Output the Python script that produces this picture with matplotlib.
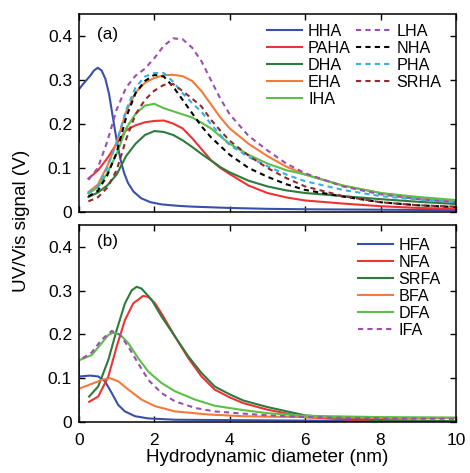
import matplotlib
matplotlib.use("Agg")
import matplotlib.pyplot as plt
from matplotlib.ticker import FuncFormatter

plt.rcParams['font.family'] = ['Liberation Sans', 'DejaVu Sans']

# ---------------- Panel (a) data ----------------
x_a = [0.25, 0.5, 0.75, 1.0, 1.25, 1.5, 1.75, 2.0, 2.25, 2.5, 2.75, 3.0,
       3.25, 3.5, 3.75, 4.0, 4.5, 5.0, 5.5, 6.0, 7.0, 8.0, 9.0, 10.0]

hha_x = [0.0, 0.0, 0.1, 0.2, 0.3, 0.4, 0.5, 0.6, 0.7, 0.8, 0.9, 1.0, 1.1, 1.2,
         1.3, 1.45, 1.65, 1.9, 2.2, 2.6, 3.0, 4.0, 5.0, 6.0, 8.0, 10.0]
hha_y = [0.16, 0.279, 0.29, 0.30, 0.31, 0.322, 0.328, 0.322, 0.303, 0.268,
         0.215, 0.163, 0.12, 0.088, 0.066, 0.046, 0.031, 0.022, 0.017, 0.014,
         0.012, 0.009, 0.007, 0.006, 0.005, 0.004]
paha = [0.076, 0.094, 0.122, 0.155, 0.186, 0.197, 0.204, 0.207, 0.208, 0.201,
        0.19, 0.168, 0.143, 0.118, 0.1, 0.086, 0.06, 0.043, 0.033, 0.026,
        0.019, 0.013, 0.009, 0.007]
dha = [0.034, 0.044, 0.06, 0.085, 0.127, 0.155, 0.175, 0.184, 0.182, 0.175,
       0.163, 0.148, 0.132, 0.117, 0.102, 0.09, 0.071, 0.058, 0.049, 0.043,
       0.036, 0.029, 0.023, 0.018]
eha = [0.045, 0.062, 0.104, 0.158, 0.228, 0.272, 0.294, 0.305, 0.311, 0.312,
       0.309, 0.298, 0.275, 0.245, 0.215, 0.19, 0.155, 0.127, 0.103, 0.085,
       0.06, 0.043, 0.031, 0.023]
iha = [0.042, 0.056, 0.088, 0.132, 0.19, 0.223, 0.242, 0.246, 0.236, 0.229,
       0.222, 0.215, 0.203, 0.19, 0.172, 0.155, 0.13, 0.11, 0.095, 0.085,
       0.06, 0.043, 0.034, 0.027]
lha = [0.073, 0.1, 0.16, 0.233, 0.283, 0.31, 0.326, 0.35, 0.378, 0.395,
       0.393, 0.374, 0.343, 0.3, 0.258, 0.222, 0.173, 0.14, 0.11, 0.088,
       0.058, 0.04, 0.029, 0.022]
nha = [0.035, 0.048, 0.083, 0.135, 0.215, 0.27, 0.298, 0.312, 0.308, 0.285,
       0.255, 0.225, 0.195, 0.17, 0.15, 0.13, 0.1, 0.08, 0.063, 0.05,
       0.035, 0.022, 0.015, 0.011]
pha = [0.043, 0.058, 0.1, 0.158, 0.232, 0.283, 0.308, 0.316, 0.316, 0.296,
       0.27, 0.248, 0.228, 0.2, 0.175, 0.152, 0.125, 0.104, 0.085, 0.07,
       0.05, 0.036, 0.028, 0.022]
srha = [0.024, 0.033, 0.055, 0.095, 0.165, 0.222, 0.255, 0.276, 0.289, 0.291,
        0.275, 0.258, 0.24, 0.21, 0.185, 0.162, 0.128, 0.1, 0.077, 0.058,
        0.036, 0.022, 0.015, 0.012]

# ---------------- Panel (b) data ----------------
hfa_x = [0.0, 0.0, 0.03, 0.29, 0.51, 0.69, 0.87, 1.04, 1.22, 1.49, 1.84, 2.55,
         4.3, 6.0, 8.0, 10.0]
hfa_y = [0.0, 0.104, 0.104, 0.106, 0.104, 0.093, 0.066, 0.039, 0.024, 0.013,
         0.008, 0.005, 0.004, 0.003, 0.002, 0.002]
nfa_x = [0.27, 0.51, 0.78, 1.0, 1.22, 1.44, 1.7, 1.84, 2.02, 2.19, 2.55, 2.9,
         3.25, 3.6, 4.0, 4.36, 5.0, 6.0, 7.0, 8.0, 10.0]
nfa_y = [0.046, 0.058, 0.104, 0.172, 0.233, 0.271, 0.288, 0.286, 0.271, 0.248,
         0.195, 0.146, 0.104, 0.074, 0.056, 0.043, 0.028, 0.011, 0.006, 0.003,
         0.001]
srfa_x = [0.27, 0.51, 0.78, 1.0, 1.22, 1.4, 1.53, 1.66, 1.93, 2.19, 2.55, 2.9,
          3.25, 3.6, 4.0, 4.36, 5.0, 6.0, 7.0, 8.0, 10.0]
srfa_y = [0.058, 0.081, 0.142, 0.21, 0.271, 0.301, 0.309, 0.305, 0.279, 0.241,
          0.195, 0.15, 0.112, 0.081, 0.063, 0.049, 0.034, 0.015, 0.008, 0.004,
          0.002]
bfa_x = [0.0, 0.03, 0.34, 0.6, 0.82, 1.04, 1.31, 1.66, 2.02, 2.55, 3.43, 4.36,
         5.0, 6.0, 8.0, 10.0]
bfa_y = [0.076, 0.077, 0.087, 0.096, 0.1, 0.093, 0.074, 0.051, 0.036, 0.024,
         0.017, 0.013, 0.012, 0.011, 0.009, 0.009]
dfa_x = [0.0, 0.0, 0.03, 0.34, 0.6, 0.78, 0.91, 1.09, 1.31, 1.57, 1.84, 2.19,
         2.55, 3.08, 3.6, 4.36, 5.0, 6.0, 8.0, 10.0]
dfa_y = [0.0, 0.14, 0.142, 0.153, 0.18, 0.199, 0.204, 0.2, 0.18, 0.146, 0.115,
         0.089, 0.07, 0.051, 0.037, 0.027, 0.02, 0.014, 0.011, 0.01]
ifa_x = [0.0, 0.0, 0.03, 0.34, 0.6, 0.87, 1.09, 1.31, 1.57, 1.84, 2.19, 2.55,
         3.08, 3.6, 4.36, 5.0, 6.0, 8.0, 10.0]
ifa_y = [0.0, 0.14, 0.142, 0.159, 0.188, 0.208, 0.199, 0.172, 0.134, 0.096,
         0.066, 0.047, 0.032, 0.024, 0.019, 0.015, 0.011, 0.008, 0.007]

x_ticks = [0, 2, 4, 6, 8, 10]
y_ticks = [0, 0.1, 0.2, 0.3, 0.4]

BLUE = '#3a50a8'
RED = '#ee3333'
DGREEN = '#2e7a3c'
ORANGE = '#f47a3a'
LGREEN = '#5cbf4a'
PURPLE = '#9b4fb0'
LBLUE = '#33b0e6'
BROWN = '#8f2b2b'

fig = plt.figure(figsize=(4.70, 4.73), dpi=100)
ax1 = fig.add_axes([0.168, 0.552, 0.802, 0.418])
ax2 = fig.add_axes([0.168, 0.108, 0.802, 0.416])

lw = 1.5
dash = (0, (2.5, 2.0))
ax1.plot(hha_x, hha_y, color=BLUE, lw=lw, label='HHA')
ax1.plot(x_a, paha, color=RED, lw=lw, label='PAHA')
ax1.plot(x_a, dha, color=DGREEN, lw=lw, label='DHA')
ax1.plot(x_a, eha, color=ORANGE, lw=lw, label='EHA')
ax1.plot(x_a, iha, color=LGREEN, lw=lw, label='IHA')
ax1.plot(x_a, lha, color=PURPLE, lw=lw, ls=dash, label='LHA')
ax1.plot(x_a, nha, color='black', lw=lw, ls=dash, label='NHA')
ax1.plot(x_a, pha, color=LBLUE, lw=lw, ls=dash, label='PHA')
ax1.plot(x_a, srha, color=BROWN, lw=lw, ls=dash, label='SRHA')

ax2.plot(hfa_x, hfa_y, color=BLUE, lw=lw, label='HFA')
ax2.plot(nfa_x, nfa_y, color=RED, lw=lw, label='NFA')
ax2.plot(srfa_x, srfa_y, color=DGREEN, lw=lw, label='SRFA')
ax2.plot(bfa_x, bfa_y, color=ORANGE, lw=lw, label='BFA')
ax2.plot(dfa_x, dfa_y, color=LGREEN, lw=lw, label='DFA')
ax2.plot(ifa_x, ifa_y, color=PURPLE, lw=lw, ls=dash, label='IFA')

fmt = FuncFormatter(lambda v, p: '0' if abs(v) < 1e-9 else ('%g' % v))
for ax in (ax1, ax2):
    ax.set_xlim(0, 10)
    ax.set_ylim(0, 0.45)
    ax.set_xticks(x_ticks)
    ax.set_yticks(y_ticks)
    ax.yaxis.set_major_formatter(fmt)
    ax.xaxis.set_major_formatter(fmt)
    ax.tick_params(direction='in', top=True, right=True, length=4,
                   width=1, labelsize=12.5)
    ax.tick_params(axis='y', pad=5)
    ax.tick_params(axis='x', pad=8)
    for s in ax.spines.values():
        s.set_linewidth(1.1)
ax1.tick_params(labelbottom=False)

ax1.text(0.048, 0.899, '(a)', transform=ax1.transAxes, fontsize=12.3,
         va='center', ha='left')
ax2.text(0.048, 0.919, '(b)', transform=ax2.transAxes, fontsize=12.3,
         va='center', ha='left')

leg_kw = dict(frameon=False, fontsize=11.6, handlelength=2.15,
              handletextpad=0.37, labelspacing=0.12, borderpad=0,
              borderaxespad=0)
ax1.legend(ncol=2, loc='upper left', bbox_to_anchor=(0.50, 0.95),
           columnspacing=0.3, **leg_kw)
ax2.legend(ncol=1, loc='upper left', bbox_to_anchor=(0.74, 0.935), **leg_kw)

ax2.set_xlabel('Hydrodynamic diameter (nm)', fontsize=13.6, labelpad=1)
fig.text(0.046, 0.533, 'UV/Vis signal (V)', rotation=90, fontsize=13.6,
         ha='center', va='center')

fig.savefig('out.png', dpi=100)
